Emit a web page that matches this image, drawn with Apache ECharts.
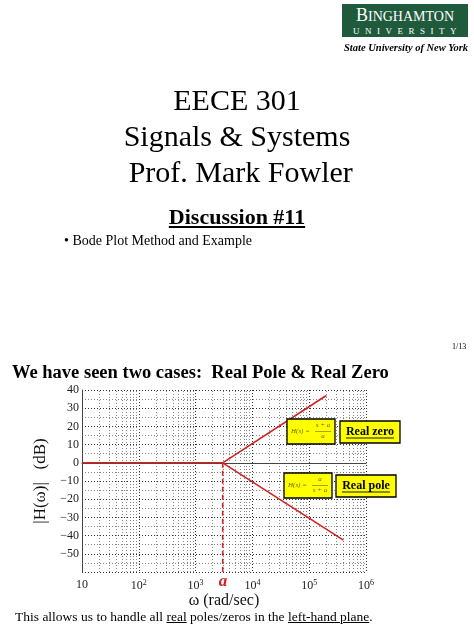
<!DOCTYPE html>
<html lang="en">
<head>
<meta charset="UTF-8">
<title>Bode</title>
<style>
  body { margin: 0; background: #fff; font-family: "Liberation Serif", serif; }
  #page { position: relative; width: 474px; height: 632px; overflow: hidden; }
  .t { position: absolute; white-space: nowrap; color: #000; }
  #main { position: absolute; left: 0; top: 0; width: 474px; height: 632px; }
</style>
</head>
<body>
<div id="page">
  <div id="main"></div>
  <div class="t" style="left:342px;top:4px;width:126px;height:33px;background:#1f5a3c;color:#fff;text-align:center;">
    <div style="font-size:18px;line-height:19px;margin-top:2px;">B<span style="font-size:14px">INGHAMTON</span></div>
    <div style="font-size:9px;letter-spacing:5.5px;line-height:10px;padding-left:5px;">UNIVERSITY</div>
  </div>
  <div class="t" style="left:344px;top:42px;font-size:10.5px;font-style:italic;font-weight:bold;">State University of New York</div>
  <div class="t" style="left:0;width:474px;text-align:center;top:82px;font-size:30px;line-height:36px;">EECE 301<br>Signals &amp; Systems<br>&nbsp;Prof. Mark Fowler</div>
  <div class="t" style="left:0;width:474px;text-align:center;top:204px;font-size:22px;font-weight:bold;text-decoration:underline;">Discussion #11</div>
  <div class="t" style="left:64px;top:233px;font-size:14px;">&bull; Bode Plot Method and Example</div>
  <div class="t" style="left:452px;top:342px;font-size:8px;">1/13</div>
  <div class="t" style="left:12px;top:362px;font-size:18.5px;font-weight:bold;">We have seen two cases:&nbsp; Real Pole &amp; Real Zero</div>
  <div class="t" style="left:15px;top:609px;font-size:13.5px;">This allows us to handle all <u>real</u> poles/zeros in the <u>left-hand plane</u>.</div>
</div>
<script src="https://cdn.jsdelivr.net/npm/echarts@6/dist/echarts.min.js"></script>
<script>
var omegaFlat = [10, 3000];
var dbFlat = [0, 0];
var omegaZero = [3000, 200000];
var dbZero = [0, 37];
var omegaPole = [3000, 400000];
var dbPole = [0, -42.5];
var cornerA = 3000;
var xTickLabels = ['10', '10{s|2}', '10{s|3}', '10{s|4}', '10{s|5}', '10{s|6}'];
var yTicks = [40, 30, 20, 10, 0, -10, -20, -30, -40, -50];

function lg(v) { return Math.log10(v); }
function pts(xs, ys) { return xs.map(function (x, i) { return [lg(x), ys[i]]; }); }

// minor log grid lines 2..9 per decade
var minorX = [];
for (var d = 1; d < 6; d++) {
  for (var k = 2; k <= 9; k++) minorX.push({ xAxis: lg(k * Math.pow(10, d)) });
}
var minorY = [];
for (var y = -55; y < 40; y += 10) minorY.push({ yAxis: y });

var red = '#d62020';
var olive = '#6b6b00';

// yellow formula box + label box
function boxes(fx, fy, num, den, lx, ly, label) {
  var top = { textVerticalAlign: 'top' };
  return [
    { type: 'rect', z: 10, shape: { x: fx, y: fy, width: 48, height: 25 }, style: { fill: '#ffff00', stroke: '#000', lineWidth: 1.3 } },
    { type: 'text', z: 11, x: fx + 4, y: fy + 9, style: Object.assign({ text: 'H(s) =', fill: olive, font: 'italic 7px Liberation Serif' }, top) },
    { type: 'text', z: 11, x: fx + 36, y: fy + 3, style: Object.assign({ text: num, fill: olive, font: 'italic 7px Liberation Serif', textAlign: 'center' }, top) },
    { type: 'line', z: 11, shape: { x1: fx + 28, y1: fy + 12.5, x2: fx + 44, y2: fy + 12.5 }, style: { stroke: olive, lineWidth: 0.6 } },
    { type: 'text', z: 11, x: fx + 36, y: fy + 14, style: Object.assign({ text: den, fill: olive, font: 'italic 7px Liberation Serif', textAlign: 'center' }, top) },
    { type: 'rect', z: 10, shape: { x: lx, y: ly, width: 60, height: 22 }, style: { fill: '#ffff00', stroke: '#000', lineWidth: 1.3 } },
    { type: 'text', z: 11, x: lx + 30, y: ly + 5, style: Object.assign({ text: label, fill: '#000', font: 'bold 12px Liberation Serif', textAlign: 'center' }, top) },
    { type: 'line', z: 11, shape: { x1: lx + 6, y1: ly + 17, x2: lx + 54, y2: ly + 17 }, style: { stroke: '#000', lineWidth: 0.9 } }
  ];
}

var chart = echarts.init(document.getElementById('main'));
chart.setOption({
  animation: false,
  grid: { left: 82, top: 390, width: 284, height: 182 },
  xAxis: {
    type: 'value', min: 1, max: 6, interval: 1,
    axisLine: { lineStyle: { color: '#444' } },
    axisTick: { show: false },
    splitLine: { lineStyle: { color: '#333', type: [1, 2] } },
    axisLabel: {
      color: '#222', fontFamily: 'Liberation Serif', fontSize: 12, margin: 7,
      formatter: function (v) { return xTickLabels[Math.round(v) - 1]; },
      rich: { s: { fontSize: 8, verticalAlign: 'top', padding: [0, 0, 6, 0], fontFamily: 'Liberation Serif' } }
    },
    name: 'ω (rad/sec)', nameLocation: 'middle', nameGap: 21,
    nameTextStyle: { fontFamily: 'Liberation Serif', fontSize: 16, color: '#111' }
  },
  yAxis: {
    type: 'value', min: -60, max: 40, interval: 10,
    axisLine: { show: true, lineStyle: { color: '#444' } },
    axisTick: { show: false },
    splitLine: { lineStyle: { color: '#333', type: [1, 2] } },
    axisLabel: {
      color: '#222', fontFamily: 'Liberation Serif', fontSize: 12, margin: 3,
      formatter: function (v) { return yTicks.indexOf(v) >= 0 ? String(v).replace('-', '\u2212') : ''; }
    },
    name: '|H(ω)|   (dB)', nameLocation: 'middle', nameGap: 18,
    nameTextStyle: { fontFamily: 'Liberation Serif', fontSize: 17, color: '#111' }
  },
  series: [
    {
      type: 'line', data: pts(omegaFlat, dbFlat), symbol: 'none',
      lineStyle: { color: red, width: 1.6 },
      markLine: {
        silent: true, symbol: 'none', label: { show: false },
        lineStyle: { color: '#555', type: [1, 2], width: 0.7 },
        data: minorX.concat(minorY)
      }
    },
    { type: 'line', data: pts(omegaZero, dbZero), symbol: 'none', lineStyle: { color: red, width: 1.6 } },
    { type: 'line', data: pts(omegaPole, dbPole), symbol: 'none', lineStyle: { color: red, width: 1.6 } },
    {
      type: 'line', data: [[lg(cornerA), 0], [lg(cornerA), -60]], symbol: 'none',
      lineStyle: { color: red, width: 1.6, type: [5, 3] }
    }
  ],
  graphic: [
    { type: 'text', x: 223, y: 573, style: { text: 'a', fill: red, font: 'italic bold 17px Liberation Serif', textAlign: 'center', textVerticalAlign: 'top' } }
  ].concat(
    boxes(287, 419, 's + a', 'a', 340, 421, 'Real zero'),
    boxes(284, 473, 'a', 's + a', 336, 475, 'Real pole')
  )
});
</script>
</body>
</html>
